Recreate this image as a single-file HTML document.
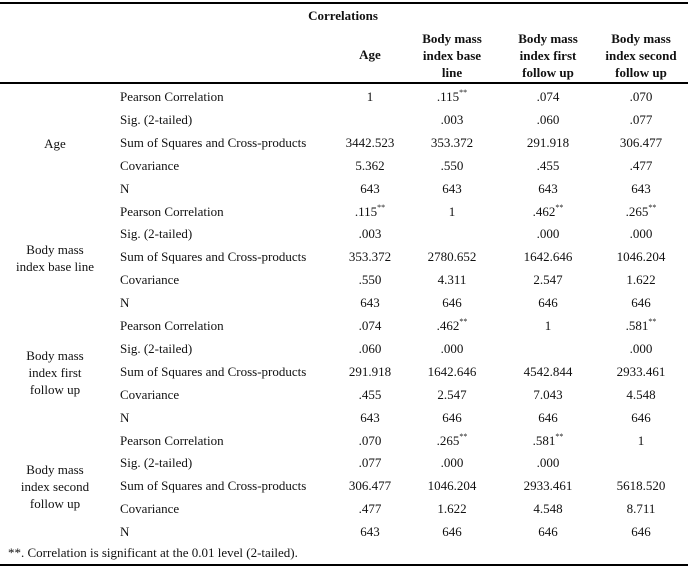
<!DOCTYPE html>
<html><head><meta charset="utf-8">
<style>
body{margin:0;background:#fff;width:688px;height:570px;overflow:hidden;font-family:"Liberation Serif",serif;font-size:13px;color:#111;}
.t{position:absolute;white-space:nowrap;line-height:16px;}
.c{transform:translateX(-50%);text-align:center;}
.b{font-weight:bold;}
.line{position:absolute;left:0;width:688px;height:1.5px;background:#000;}
sup{font-size:8px;vertical-align:top;line-height:8px;}
</style></head><body>
<div class="line" style="top:2px"></div>
<div class="line" style="top:82px"></div>
<div class="line" style="top:564px"></div>
<div class="t c b" style="left:343px;top:8px">Correlations</div>
<div class="t c b" style="left:370px;top:47px">Age</div>
<div class="t c b" style="left:452px;top:30px;line-height:17px">Body mass<br>index base<br>line</div>
<div class="t c b" style="left:548px;top:30px;line-height:17px">Body mass<br>index first<br>follow up</div>
<div class="t c b" style="left:641px;top:30px;line-height:17px">Body mass<br>index second<br>follow up</div>
<div id="body"></div>
<div class="t" style="left:8px;top:545px">**. Correlation is significant at the 0.01 level (2-tailed).</div>
<script>
const groups=["Age","Body mass<br>index base line","Body mass<br>index first<br>follow up","Body mass<br>index second<br>follow up"];
const stats=["Pearson Correlation","Sig. (2-tailed)","Sum of Squares and Cross-products","Covariance","N"];
const values=[
[["1",".115**",".074",".070"],["",".003",".060",".077"],["3442.523","353.372","291.918","306.477"],["5.362",".550",".455",".477"],["643","643","643","643"]],
[[".115**","1",".462**",".265**"],[".003","",".000",".000"],["353.372","2780.652","1642.646","1046.204"],[".550","4.311","2.547","1.622"],["643","646","646","646"]],
[[".074",".462**","1",".581**"],[".060",".000","",".000"],["291.918","1642.646","4542.844","2933.461"],[".455","2.547","7.043","4.548"],["643","646","646","646"]],
[[".070",".265**",".581**","1"],[".077",".000",".000",""],["306.477","1046.204","2933.461","5618.520"],[".477","1.622","4.548","8.711"],["643","646","646","646"]]
];
const colX=[370,452,548,641];
const root=document.getElementById('body');
const rowH=22.9, y0=89;
groups.forEach((g,gi)=>{
  const lines=g.split('<br>').length;
  const gc=y0+(gi*5+2.5)*rowH;
  const d=document.createElement('div');
  d.className='t c';
  
  
  d.style.left='55px';d.style.top=(gc-lines*17/2-3)+'px';d.style.lineHeight='17px';
  d.innerHTML=g;root.appendChild(d);
  stats.forEach((s,si)=>{
    const y=y0+(gi*5+si)*rowH;
    const l=document.createElement('div');
    l.className='t';
    
    
    l.style.left='120px';l.style.top=y+'px';l.textContent=s;root.appendChild(l);
    values[gi][si].forEach((v,ci)=>{
      if(!v)return;
      const c=document.createElement('div');
      c.className='t c';
      
      
      c.style.left=colX[ci]+'px';c.style.top=y+'px';
      c.innerHTML=v.replace('**','<sup>**</sup>');
      root.appendChild(c);
    });
  });
});
</script>
</body></html>
